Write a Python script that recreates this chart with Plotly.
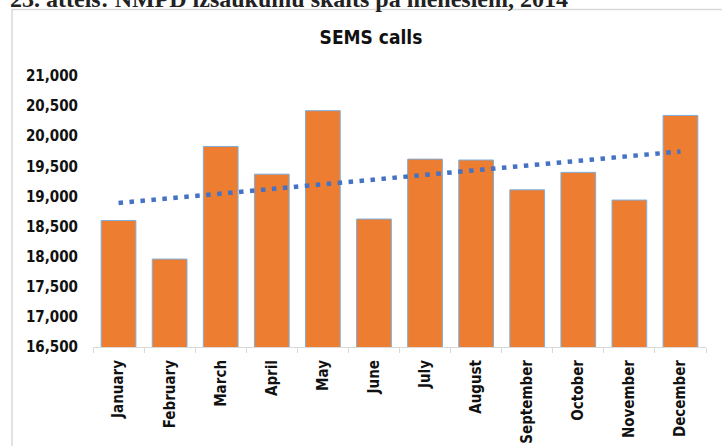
import numpy as np
import plotly.graph_objects as go

# Monthly SEMS call counts
months = ["January", "February", "March", "April", "May", "June",
          "July", "August", "September", "October", "November", "December"]
calls = [18600, 17960, 19830, 19370, 20425, 18625,
         19620, 19605, 19110, 19400, 18940, 20345]

y_ticks = list(range(16500, 21001, 500))

# Linear trend fitted to the monthly counts
idx = np.arange(len(calls))
slope, intercept = np.polyfit(idx, calls, 1)
trend = slope * idx + intercept

W, H = 722, 446
ML, MR, MT, MB = 93, 16, 76, 99
pw, ph = W - ML - MR, H - MT - MB

FONT = "DejaVu Sans Condensed, Liberation Sans Narrow, Arial Narrow, sans-serif"

fig = go.Figure()
fig.add_trace(go.Bar(
    x=months, y=calls,
    marker=dict(color="#ED7D31", line=dict(color="#7FAEDC", width=1)),
    width=0.68,
    showlegend=False,
))
fig.add_trace(go.Scatter(
    x=months, y=trend, mode="lines",
    line=dict(color="#4472C4", width=4.5, dash="4.5px,6.5px"),
    showlegend=False,
))

# chart frame
def px_x(p):
    return (p - ML) / pw

def px_y(p):
    return (H - MB - p) / ph

fig.add_shape(type="rect", xref="paper", yref="paper",
              x0=px_x(12), x1=px_x(760), y0=px_y(500), y1=px_y(9.5),
              line=dict(color="#d9d9d9", width=1.5), fillcolor="rgba(0,0,0,0)",
              layer="below")

fig.add_annotation(
    text="<b>23. attēls: NMPD izsaukumu skaits pa mēnešiem, 2014</b>",
    xref="paper", yref="paper", x=px_x(8), y=px_y(14),
    xanchor="left", yanchor="bottom", showarrow=False,
    font=dict(family="Liberation Serif, Times New Roman, serif", size=24,
              color="#222222"),
)

fig.update_layout(
    width=W, height=H,
    margin=dict(l=ML, r=MR, t=MT, b=MB),
    paper_bgcolor="white", plot_bgcolor="white",
    bargap=0.32,
    title=dict(text="<b>SEMS calls</b>", x=(12 + 730) / 2 / W, xanchor="center",
               y=1 - 37 / H, yanchor="middle",
               font=dict(family=FONT, size=19, color="#111111")),
    font=dict(family=FONT, color="#111111"),
)
fig.update_xaxes(
    tickangle=-90,
    tickfont=dict(family=FONT, size=15, color="#111111", weight="bold"),
    showline=True, linecolor="#d9d9d9", linewidth=1,
    ticks="outside", tickson="boundaries", ticklen=5, tickcolor="#d9d9d9",
    showgrid=False, automargin=False, ticklabelstandoff=6,
)
fig.update_yaxes(
    range=[16500, 21000],
    tickvals=y_ticks,
    tickformat=",",
    tickfont=dict(family=FONT, size=15, color="#111111", weight="bold"),
    showgrid=False, zeroline=False, showline=False,
    ticklabelstandoff=14, automargin=False,
)

fig.write_html("out.html")
